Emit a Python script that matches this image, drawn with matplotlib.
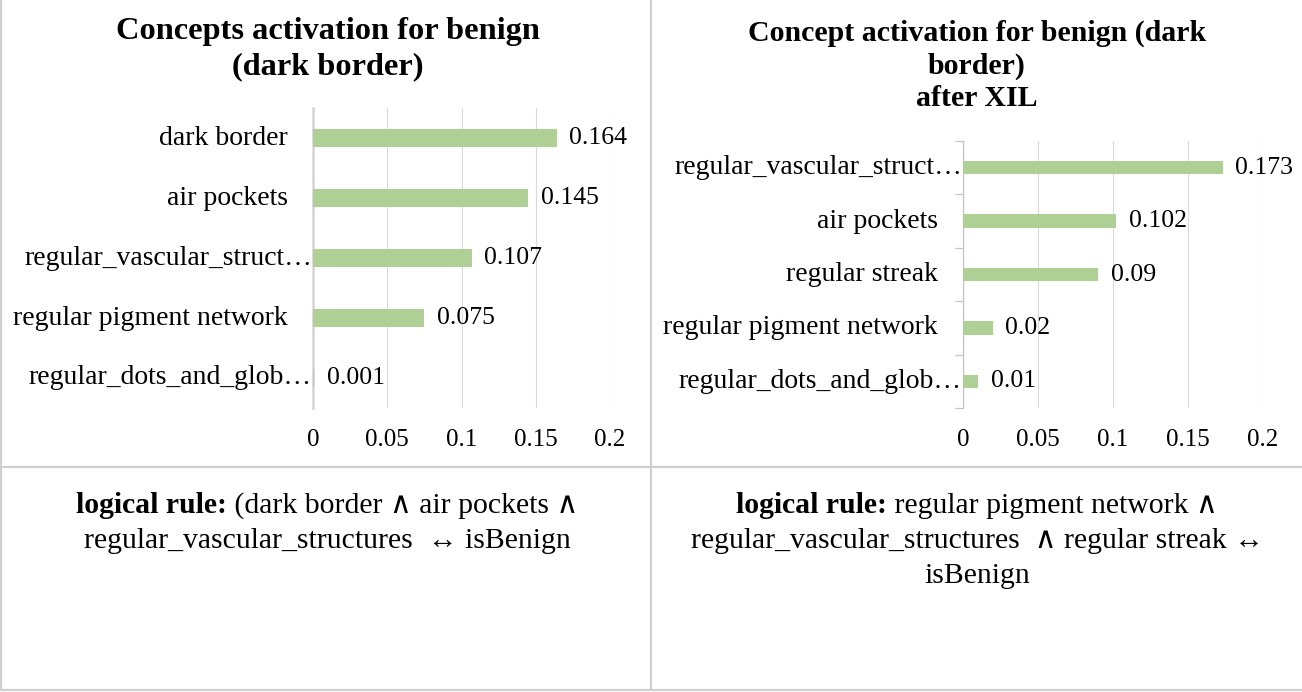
import matplotlib
matplotlib.use("Agg")
import matplotlib.pyplot as plt
from matplotlib.offsetbox import TextArea, HPacker, VPacker, AnnotationBbox
import matplotlib.transforms as mtrans

plt.rcParams['font.family'] = ['Liberation Serif', 'DejaVu Serif']

# --- dados ---
left_title = "Concepts activation for benign\n(dark border)"
left_cats = ["dark border", "air pockets", "regular_vascular_struct\u2026",
             "regular pigment network", "regular_dots_and_glob\u2026"]
left_vals = [0.164, 0.145, 0.107, 0.075, 0.001]

right_title = "Concept activation for benign (dark\nborder)\nafter XIL"
right_cats = ["regular_vascular_struct\u2026", "air pockets", "regular streak",
              "regular pigment network", "regular_dots_and_glob\u2026"]
right_vals = [0.173, 0.102, 0.09, 0.02, 0.01]

x_ticks = [0, 0.05, 0.1, 0.15, 0.2]

left_rule = [("logical rule:", " (dark border \u2227 air pockets \u2227"),
             ("", "regular_vascular_structures  \u2194 isBenign")]
right_rule = [("logical rule:", " regular pigment network \u2227"),
              ("", "regular_vascular_structures  \u2227 regular streak \u2194"),
              ("", "isBenign")]

W, H = 1302, 692
BAR = '#AFD095'
GRID = '#D9D9D9'
LINE = '#CFCFCF'

fig = plt.figure(figsize=(W / 100, H / 100), dpi=100)

# camada de fundo em pixels (linhas da tabela e textos)
bg = fig.add_axes([0, 0, 1, 1])
bg.set_xlim(0, W)
bg.set_ylim(H, 0)
bg.axis('off')
for x0, y0, x1, y1 in [(651, 0, 651, 690), (0, 466.5, W, 466.5),
                       (0, 690, W, 690), (0.8, 0, 0.8, 690)]:
    bg.plot([x0, x1], [y0, y1], color=LINE, lw=1.6, solid_capstyle='butt')


def px_axes(x0, x1, y0, y1):
    return fig.add_axes([x0 / W, 1 - y1 / H, (x1 - x0) / W, (y1 - y0) / H])


def draw_chart(ax, cats, vals, bar_h, ticks_on_axis):
    pos = list(range(len(cats)))
    bars = ax.barh(pos, vals, height=bar_h, color=BAR, zorder=3)
    ax.set_ylim(len(cats) - 0.5, -0.5)
    ax.set_xlim(0, 0.2)
    ax.set_xticks(x_ticks)
    ax.set_xticklabels([f"{t:g}" for t in x_ticks], fontsize=18)
    ax.tick_params(axis='x', length=0, pad=15)
    ax.grid(axis='x', color=GRID, lw=0.8, zorder=0)
    for s in ['top', 'right', 'bottom']:
        ax.spines[s].set_visible(False)
    ax.bar_label(bars, labels=[f"{v:g}" for v in vals], padding=9, fontsize=18.5)

    # rótulos das categorias: os truncados encostam no eixo
    ax.set_yticks([])
    trans = mtrans.blended_transform_factory(ax.transAxes, ax.transData)
    for p, c in zip(pos, cats):
        off = 1 if c.endswith("\u2026") else 25
        t = trans + mtrans.ScaledTranslation(-off / 100, 0, fig.dpi_scale_trans)
        ax.text(0, p, c, transform=t, ha='right', va='center', fontsize=20)

    if ticks_on_axis:
        ax.spines['left'].set_color('#C4C4C4')
        ax.spines['left'].set_linewidth(0.9)
        ax.set_yticks([p - 0.5 for p in pos] + [len(cats) - 0.5], minor=True)
        ax.tick_params(axis='y', which='minor', length=6, width=0.9,
                       color='#C4C4C4', labelleft=False)
    else:
        ax.spines['left'].set_color(GRID)
        ax.spines['left'].set_linewidth(2)
    ax.set_facecolor('none')


ax1 = px_axes(313, 610, 108, 408)
draw_chart(ax1, left_cats, left_vals, 0.29, False)
ax2 = px_axes(963, 1263, 141, 408)
draw_chart(ax2, right_cats, right_vals, 0.25, True)

bg.text(328, 49, left_title, ha='center', va='center', fontsize=23.3,
        fontweight='bold', linespacing=1.25)
bg.text(977, 66, right_title, ha='center', va='center', fontsize=21.5,
        fontweight='bold', linespacing=1.25)


def rule_box(lines, cx, top):
    rows = []
    for b, n in lines:
        parts = []
        if b:
            parts.append(TextArea(b, textprops=dict(fontsize=21.4, fontweight='bold')))
        parts.append(TextArea(n, textprops=dict(fontsize=21.4)))
        rows.append(HPacker(children=parts, pad=0, sep=0, align='baseline'))
    box = VPacker(children=rows, pad=0, sep=6.5, align='center')
    ab = AnnotationBbox(box, (cx, top), xycoords='data', box_alignment=(0.5, 1),
                        frameon=False, pad=0)
    bg.add_artist(ab)


rule_box(left_rule, 327, 492)
rule_box(right_rule, 977, 492)

fig.savefig("out.png", dpi=100)
